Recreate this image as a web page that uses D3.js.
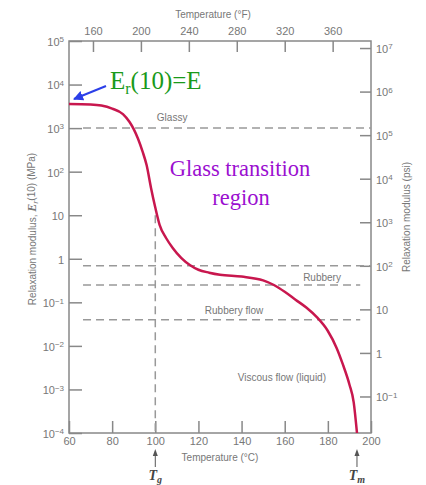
<!DOCTYPE html>
<html>
<head>
<meta charset="utf-8">
<script src="https://cdn.jsdelivr.net/npm/d3@7"></script>
<style>
  body { margin: 0; background: #fff; }
  .sans { font-family: "Liberation Sans", Arial, sans-serif; }
  .tick text { fill: #777; font-size: 11px; font-family: "Liberation Sans", Arial, sans-serif; }
  .lbl { fill: #777; font-size: 10px; font-family: "Liberation Sans", Arial, sans-serif; }
  .serif { font-family: "Liberation Serif", "Times New Roman", serif; }
</style>
</head>
<body>
<div id="chart"></div>
<script>
// relaxation modulus curve
const tempC = [60, 70, 75, 80, 85, 88, 90, 92, 94, 96, 98, 100, 102, 105, 108, 112, 116, 120, 125, 130,
               140, 150, 155, 160, 165, 170, 175, 180, 184, 187, 190, 192, 193.5];
const modulusMPa = [3600, 3500, 3300, 2800, 2100, 1400, 950, 570, 300, 140, 43, 15, 6.0, 3.0, 1.8, 1.05,
                    0.72, 0.56, 0.48, 0.43, 0.39, 0.32, 0.25, 0.175, 0.115, 0.076, 0.045, 0.022,
                    0.0091, 0.0037, 0.0013, 0.0005, 0.0001];

// dashed reference levels (MPa) and their temperature extents
const refLevels = [1000, 0.6895, 0.25, 0.04];
const refFrom = [66.5, 66.5, 66.5, 66.5];
const refTo = [200, 200, 195, 195];

const xTicksC = [60, 80, 100, 120, 140, 160, 180, 200];
const xTicksF = [160, 200, 240, 280, 320, 360];
const yTicksMPa = [-4, -3, -2, -1, 0, 1, 2, 3, 4, 5];
const yTicksPsi = [-1, 0, 1, 2, 3, 4, 5, 6, 7];
const PSI_PER_MPA = 145.04;

const width = 426, height = 485;
const margin = {top: 41, right: 55, bottom: 52, left: 69};
const innerWidth = width - margin.left - margin.right;
const innerHeight = height - margin.top - margin.bottom;

const svg = d3.select("#chart").append("svg")
    .attr("width", width)
    .attr("height", height);

const xScale = d3.scaleLinear().domain([60, 200]).range([0, innerWidth]);
const xFScale = d3.scaleLinear().domain([60 * 9 / 5 + 32, 200 * 9 / 5 + 32]).range([0, innerWidth]);
const yScale = d3.scaleLog().domain([1e-4, 1e5]).range([innerHeight, 0]);
const yPsiScale = d3.scaleLog().domain([1e-4 * PSI_PER_MPA, 1e5 * PSI_PER_MPA]).range([innerHeight, 0]);

const g = svg.append("g").attr("transform", `translate(${margin.left},${margin.top})`);

// power-of-ten labels with superscripts
const powLabel = (sel, exps) => {
    sel.selectAll(".tick text").each(function(d, i) {
        const e = exps[i];
        const t = d3.select(this).text("");
        if (e === 0) { t.text("1"); return; }
        if (e === 1) { t.text("10"); return; }
        t.append("tspan").text("10");
        t.append("tspan").attr("dy", "-0.45em").style("font-size", "8px")
            .text(e < 0 ? "\u2212" + (-e) : e);
    });
};

const yAxisG = g.append("g")
    .call(d3.axisLeft(yScale).tickValues(yTicksMPa.map(e => Math.pow(10, e))).tickSize(-13).tickPadding(5));
powLabel(yAxisG, yTicksMPa);

const y2AxisG = g.append("g")
    .attr("transform", `translate(${innerWidth},0)`)
    .call(d3.axisRight(yPsiScale).tickValues(yTicksPsi.map(e => Math.pow(10, e))).tickSize(-11).tickPadding(5));
powLabel(y2AxisG, yTicksPsi);

const xAxisG = g.append("g")
    .attr("transform", `translate(0,${innerHeight})`)
    .call(d3.axisBottom(xScale).tickValues(xTicksC).tickSize(-12).tickPadding(4));

const xTopG = g.append("g")
    .call(d3.axisTop(xFScale).tickValues(xTicksF).tickSize(-11).tickPadding(6));

[yAxisG, y2AxisG, xAxisG, xTopG].forEach(a => {
    a.select(".domain").remove();
    a.selectAll(".tick line").attr("stroke", "#888").attr("stroke-width", 1.5);
});
yAxisG.selectAll(".tick text").attr("dy", "0.4em");
y2AxisG.selectAll(".tick text").attr("dy", "0.4em");

// frame
g.append("rect")
    .attr("width", innerWidth).attr("height", innerHeight)
    .attr("fill", "none").attr("stroke", "#888").attr("stroke-width", 1.5);

// dashed reference lines
refLevels.forEach((v, i) => {
    g.append("line")
        .attr("x1", xScale(refFrom[i])).attr("x2", xScale(refTo[i]))
        .attr("y1", yScale(v)).attr("y2", yScale(v))
        .attr("stroke", "#999").attr("stroke-width", 1.5)
        .attr("stroke-dasharray", "8,5");
});
g.append("line")
    .attr("x1", xScale(100)).attr("x2", xScale(100))
    .attr("y1", yScale(10)).attr("y2", innerHeight)
    .attr("stroke", "#999").attr("stroke-width", 1.5)
    .attr("stroke-dasharray", "8,5");

// region labels
const regionLabel = (txt, t, v, dy) => g.append("text").attr("class", "lbl")
    .attr("x", xScale(t)).attr("y", yScale(v) + dy)
    .attr("text-anchor", "middle").text(txt);
regionLabel("Glassy", 107.8, 1000, -7);
regionLabel("Rubbery", 177.3, 0.6895, 15);
regionLabel("Rubbery flow", 136.5, 0.04, -6);
regionLabel("Viscous flow (liquid)", 158.7, 0.04, 61);

// the curve
const points = tempC.map((t, i) => [xScale(t), yScale(modulusMPa[i])]);
g.append("path")
    .attr("d", d3.line().curve(d3.curveMonotoneX)(points))
    .attr("fill", "none")
    .attr("stroke", "#c8174e")
    .attr("stroke-width", 2.5);

// axis titles
svg.append("text").attr("class", "lbl")
    .attr("x", 213).attr("y", 18).attr("text-anchor", "middle")
    .text("Temperature (\u00b0F)");
svg.append("text").attr("class", "lbl")
    .attr("x", margin.left + innerWidth / 2).attr("y", 461).attr("text-anchor", "middle")
    .text("Temperature (\u00b0C)");

const yTitle = svg.append("text").attr("class", "lbl")
    .attr("transform", "translate(36,229) rotate(-90)")
    .attr("text-anchor", "middle");
yTitle.append("tspan").text("Relaxation modulus, ");
yTitle.append("tspan").attr("class", "serif")
    .style("font-style", "italic").style("font-weight", "bold").style("font-size", "12px").text("E");
yTitle.append("tspan").attr("class", "serif")
    .style("font-style", "italic").style("font-size", "8px").attr("dy", "0.3em").text("r");
yTitle.append("tspan").attr("dy", "-0.3em").text("(10) (MPa)");

svg.append("text").attr("class", "lbl")
    .attr("transform", "translate(410,217) rotate(-90)")
    .attr("text-anchor", "middle")
    .text("Relaxation modulus (psi)");

// Tg and Tm markers
const marker = (t, sub) => {
    const x = margin.left + xScale(t);
    svg.append("line").attr("x1", x).attr("x2", x).attr("y1", 467).attr("y2", 453)
        .attr("stroke", "#555").attr("stroke-width", 1);
    svg.append("path").attr("d", `M${x},449 L${x - 2.5},456 L${x + 2.5},456 Z`).attr("fill", "#555");
    const tx = svg.append("text").attr("class", "serif").attr("x", x).attr("y", 480)
        .attr("text-anchor", "middle").attr("fill", "#444")
        .style("font-style", "italic").style("font-weight", "bold");
    tx.append("tspan").style("font-size", "14px").text("T");
    tx.append("tspan").style("font-size", "10px").attr("dy", "3").text(sub);
};
marker(100, "g");
marker(193.5, "m");

// annotation: Er(10)=E
const ann = svg.append("text").attr("class", "serif").attr("x", 110).attr("y", 89)
    .style("font-size", "25px").attr("fill", "#1a9a1a");
ann.append("tspan").text("E");
ann.append("tspan").style("font-size", "16px").attr("dy", "5").text("r");
ann.append("tspan").attr("dy", "-5").text("(10)=E");

svg.append("defs").append("marker")
    .attr("id", "blueHead").attr("viewBox", "0 0 10 10")
    .attr("refX", 9).attr("refY", 5)
    .attr("markerWidth", 5).attr("markerHeight", 5)
    .attr("orient", "auto")
    .append("path").attr("d", "M0,0 L10,5 L0,10 Z").attr("fill", "#2b3fe8");
svg.append("line")
    .attr("x1", 106).attr("y1", 86).attr("x2", 74).attr("y2", 99)
    .attr("stroke", "#2b3fe8").attr("stroke-width", 2)
    .attr("marker-end", "url(#blueHead)");

// annotation: Glass transition region
const gt = svg.append("text").attr("class", "serif").attr("text-anchor", "middle")
    .style("font-size", "22.5px").attr("fill", "#9b0fd0");
gt.append("tspan").attr("x", 240).attr("y", 176).text("Glass transition");
gt.append("tspan").attr("x", 241).attr("y", 205).text("region");
</script>
</body>
</html>
